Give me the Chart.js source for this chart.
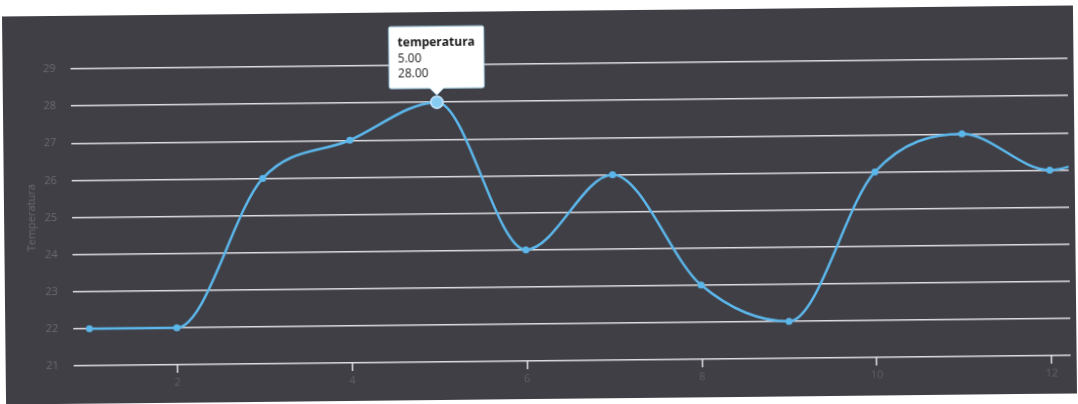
<!DOCTYPE html>
<html>
<head>
<meta charset="utf-8">
<title>Temperatura</title>
<script src="https://cdn.jsdelivr.net/npm/chart.js@4.4.1/dist/chart.umd.min.js"></script>
<style>
  html, body { margin: 0; padding: 0; background: #ffffff; width: 1078px; height: 404px; overflow: hidden; }
  #panel {
    position: absolute; left: 4px; top: 11px; width: 1071px; height: 388px;
    background: #403f46;
    transform: rotate(-0.6deg);
    transform-origin: 50% 50%;
  }
  #chart { display: block; }
</style>
</head>
<body>
<div id="panel"><canvas id="chart" width="1071" height="388"></canvas></div>
<script>
// Hourly readings: x position and temperature (°C)
const xValues = [1, 2, 3, 4, 5, 6, 7, 8, 9, 10, 11, 12, 13];
const temperatures = [22, 22, 26, 27, 28, 24, 26, 23, 22, 26, 27, 26, 27];
const xTickValues = [2, 4, 6, 8, 10, 12];
const yTickValues = [21, 22, 23, 24, 25, 26, 27, 28, 29];
const seriesName = 'temperatura';
const axisTitle = 'Temperatura';
const highlightIndex = 4;

const points = xValues.map((x, i) => ({ x: x, y: temperatures[i] }));

const lineBlue = '#5bb6ea';
const gridColor = 'rgba(232,232,238,0.92)';
const faintText = '#69686f';
const fainterText = '#5e5d64';

const chart = new Chart(document.getElementById('chart'), {
  type: 'line',
  data: {
    datasets: [{
      label: seriesName,
      data: points,
      borderColor: lineBlue,
      backgroundColor: lineBlue,
      borderWidth: 2.5,
      cubicInterpolationMode: 'monotone',
      pointRadius: 3.5,
      pointBorderWidth: 0,
      pointBackgroundColor: lineBlue,
      pointHoverRadius: 6,
      pointHoverBackgroundColor: '#86cbf2',
      pointHoverBorderColor: 'rgba(190,225,248,0.9)',
      pointHoverBorderWidth: 2
    }]
  },
  options: {
    responsive: false,
    animation: false,
    events: [],
    layout: { padding: { top: 53, right: 0, left: 0, bottom: 0 } },
    plugins: {
      legend: { display: false },
      tooltip: {
        enabled: true,
        backgroundColor: '#ffffff',
        borderColor: '#9fcbe2',
        borderWidth: 1,
        cornerRadius: 2,
        padding: { top: 9, bottom: 7, left: 9, right: 9 },
        caretSize: 7,
        caretPadding: 7,
        xAlign: 'center',
        yAlign: 'bottom',
        displayColors: false,
        titleColor: '#1a1a1a',
        bodyColor: '#222222',
        titleFont: { family: 'Open Sans', size: 12, weight: 'bold', lineHeight: 1.25 },
        bodyFont: { family: 'Open Sans', size: 12, lineHeight: 1.25 },
        titleMarginBottom: 1,
        bodySpacing: 0,
        callbacks: {
          title: items => items[0].dataset.label,
          label: item => [item.parsed.x.toFixed(2), item.parsed.y.toFixed(2)]
        }
      }
    },
    scales: {
      x: {
        type: 'linear',
        min: 0.815,
        max: 12.216,
        afterBuildTicks: scale => { scale.ticks = xTickValues.map(v => ({ value: v })); },
        afterFit: scale => { scale.height = 38; },
        grid: {
          drawOnChartArea: false,
          drawTicks: true,
          tickLength: 8,
          color: gridColor,
          lineWidth: 1.5
        },
        border: { display: false },
        ticks: {
          color: fainterText,
          font: { family: 'Open Sans', size: 11 },
          padding: 3,
          maxRotation: 0,
          autoSkip: false
        }
      },
      y: {
        type: 'linear',
        min: 21,
        max: 29,
        afterBuildTicks: scale => { scale.ticks = yTickValues.map(v => ({ value: v })); },
        afterFit: scale => { scale.width = 68; },
        grid: {
          drawTicks: false,
          color: gridColor,
          lineWidth: 1.5
        },
        border: { display: false },
        ticks: {
          color: faintText,
          font: { family: 'Open Sans', size: 11 },
          padding: 15
        },
        title: {
          display: true,
          text: axisTitle,
          color: faintText,
          font: { family: 'Open Sans', size: 11 },
          padding: { top: 21, bottom: 0 }
        }
      }
    }
  }
});

// Show the reading for the highlighted hour
const active = [{ datasetIndex: 0, index: highlightIndex }];
const el = chart.getDatasetMeta(0).data[highlightIndex];
chart.setActiveElements(active);
chart.tooltip.setActiveElements(active, { x: el.x, y: el.y });
chart.update();
</script>
</body>
</html>
